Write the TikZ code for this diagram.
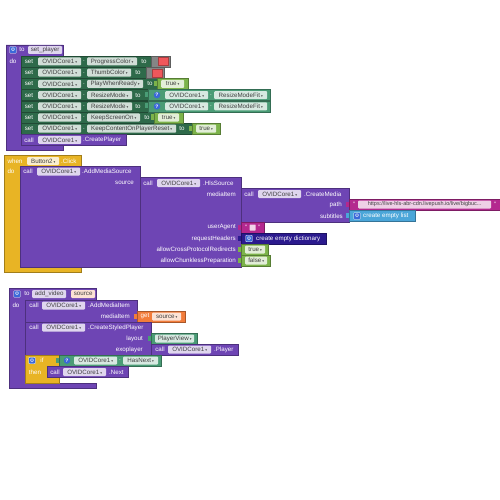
\documentclass[tikz,border=0pt]{standalone}
\usepackage{fontspec}
\setmainfont{Liberation Sans}
\newfontfamily\symfont{DejaVu Sans}

\definecolor{procpurple}{HTML}{6E45B4}
\definecolor{setgreen}{HTML}{2E6A4A}
\definecolor{compteal}{HTML}{4A9C76}
\definecolor{boolgreen}{HTML}{7CB34A}
\definecolor{evyellow}{HTML}{E8B425}
\definecolor{textmag}{HTML}{B4288F}
\definecolor{listblue}{HTML}{4BA6D9}
\definecolor{dictnavy}{HTML}{2B1A8E}
\definecolor{getorange}{HTML}{F27C3A}
\definecolor{colgray}{HTML}{858585}
\definecolor{colred}{HTML}{F0575B}
\definecolor{gearblue}{HTML}{3A68D8}

\tikzset{
    block/.style={
        draw=#1!70!black,
        fill=#1,
        line width=0.3pt,
    },
    lbl/.style={
        text=white,
        inner sep=0,
        font=\fontsize{6.2}{6.5}\selectfont,
    },
    fld/.style={
        fill=white!78!#1,
        text=black!75,
        rounded corners=1pt,
        inner sep=0,
        minimum height=8pt,
        anchor=west,
        font=\fontsize{6.2}{6.5}\selectfont,
    },
    gear/.style={
        draw=white,
        fill=gearblue,
        text=white,
        rounded corners=0.6pt,
        minimum size=6.5pt,
        inner sep=0,
        line width=0.4pt,
        font=\symfont\fontsize{5}{5}\selectfont,
    },
    qmark/.style={
        circle,
        fill=gearblue,
        text=white,
        minimum size=6.5pt,
        inner sep=0,
        font=\bfseries\fontsize{5}{5}\selectfont,
    },
    swatch/.style={
        fill=colred,
        draw=colred!70!black,
        line width=0.3pt,
        minimum width=10pt,
        minimum height=8pt,
        inner sep=0,
    },
}
\newcommand\dd{\,{\symfont\fontsize{3.5}{4}\selectfont ▾}}
\newcommand\fld[6]{\node[fld=#2, minimum width={((#4)-(#3))*1pt}] (#1) at ({#3},{#5}) {#6};}
\newcommand\tab[3]{\fill[#1] ({#2-3},{#3-3}) rectangle (#2,{#3+2});}

\begin{document}
\begin{tikzpicture}[x=1pt,y=-1pt]
    \useasboundingbox (0,0) rectangle (500,500);
    \fill[white] (0,0) rectangle (500,500);

    % set_player procedure
    \filldraw[block=procpurple] (6,45) -- (63,45) -- (63,56) -- (21,56) -- (21,145) -- (63,145) -- (63,150.5) -- (6,150.5) -- cycle;
    \node[gear] (gear1) at (13,50) {⚙};
    \node[lbl] (hdto1) at (22,50) {to};
    \fld{pname1}{procpurple}{28}{62}{50}{set\_player}
    \node[lbl] (do1) at (13,61.5) {do};

    % setter rows
    \foreach \prop/\pend/\tox/\gend [count=\n] in {
        ProgressColor/137/144/151,
        ThumbColor/131/138/146,
        PlayWhenReady/143/150/157,
        ResizeMode/132/138/148,
        ResizeMode/132/138/148,
        KeepScreenOn/140/147/154,
        KeepContentOnPlayerReset/176/182/192%
    } {
        \pgfmathsetmacro\c{61.5+11.2*(\n-1)}
        \filldraw[block=setgreen] (21,{\c-5.5}) rectangle (\gend,{\c+5.5});
        \node[lbl] (set\n) at (29,\c) {set};
        \fld{obj\n}{setgreen}{38}{81}{\c}{OVIDCore1\dd}
        \node[lbl] (dot\n) at (84,\c) {.};
        \fld{prop\n}{setgreen}{87}{\pend}{\c}{\prop\dd}
        \node[lbl] (to\n) at (\tox,\c) {to};
    }

    % colour values
    \filldraw[block=colgray] (151,56) rectangle (170,67);
    \node[swatch] (red1) at (163,61.5) {};
    \filldraw[block=colgray] (146,67.2) rectangle (164,78.2);
    \node[swatch] (red2) at (157,72.7) {};

    % true values
    \foreach \x/\y/\w [count=\n] in {157/83.9/31, 154/117.5/29, 192/128.7/28} {
        \tab{boolgreen}{\x}{\y}
        \filldraw[block=boolgreen] (\x,{\y-5.5}) rectangle ({\x+\w},{\y+5.5});
        \fld{tru\n}{boolgreen}{\x+4}{\x+\w-4}{\y}{true\dd}
    }

    % ResizeModeFit values
    \foreach \y [count=\n] in {95.1, 106.3} {
        \tab{compteal}{148}{\y}
        \filldraw[block=compteal] (148,{\y-5.5}) rectangle (270,{\y+5.5});
        \node[qmark] (q\n) at (157,\y) {?};
        \fld{fitobj\n}{compteal}{165}{208}{\y}{OVIDCore1\dd}
        \node[lbl] (fitdot\n) at (211,\y) {.};
        \fld{fit\n}{compteal}{214}{267}{\y}{ResizeModeFit\dd}
    }

    % call CreatePlayer
    \filldraw[block=procpurple] (21,134.4) rectangle (126,145.4);
    \node[lbl] (call1) at (29,139.9) {call};
    \fld{cpobj}{procpurple}{38}{81}{139.9}{OVIDCore1\dd}
    \node[lbl, anchor=west] (cp) at (83,139.9) {.CreatePlayer};

    % when Button2.Click
    \filldraw[block=evyellow] (4,155) -- (81,155) -- (81,166) -- (20,166) -- (20,267) -- (81,267) -- (81,272) -- (4,272) -- cycle;
    \node[lbl] (when) at (15,161) {when};
    \fld{btn}{evyellow}{27}{59}{161}{Button2\dd}
    \node[lbl, anchor=west] (click) at (61,161) {.Click};
    \node[lbl] (do2) at (11,171.5) {do};

    % AddMediaSource
    \filldraw[block=procpurple] (20,166) rectangle (140,267);
    \node[lbl] (call2) at (28,171.5) {call};
    \fld{amsobj}{procpurple}{37}{80}{171.5}{OVIDCore1\dd}
    \node[lbl, anchor=west] (ams) at (82,171.5) {.AddMediaSource};
    \node[lbl, anchor=east] (source) at (134,183) {source};

    % HlsSource
    \filldraw[block=procpurple] (140,177) rectangle (241,267);
    \node[lbl] (call3) at (148,183) {call};
    \fld{hlsobj}{procpurple}{157}{200}{183}{OVIDCore1\dd}
    \node[lbl, anchor=west] (hls) at (203,183) {.HlsSource};
    \foreach \t/\y [count=\n] in {
        mediaItem/194,
        userAgent/227.5,
        requestHeaders/238.5,
        allowCrossProtocolRedirects/249.5,
        allowChunklessPreparation/260.5%
    } {
        \node[lbl, anchor=east] (hlsin\n) at (236,\y) {\t};
    }

    % CreateMedia
    \filldraw[block=procpurple] (241,188) rectangle (349,222);
    \node[lbl] (call4) at (249,194) {call};
    \fld{cmobj}{procpurple}{258}{301}{194}{OVIDCore1\dd}
    \node[lbl, anchor=west] (cm) at (304,194) {.CreateMedia};
    \node[lbl, anchor=east] (path) at (342,204.5) {path};
    \node[lbl, anchor=east] (subs) at (343,216) {subtitles};

    % path text
    \tab{textmag}{349}{204.5}
    \filldraw[block=textmag] (349,199) rectangle (500,210);
    \node[lbl] (q1l) at (354,204) {"};
    \node[fld=textmag, minimum width=133pt, font=\fontsize{5.5}{6}\selectfont] (url) at (358,204.5) {https://live-hls-abr-cdn.livepush.io/live/bigbuc...};
    \node[lbl] (q1r) at (495,204) {"};

    % create empty list
    \tab{listblue}{349}{216}
    \filldraw[block=listblue] (349,210.5) rectangle (415,221.5);
    \node[gear] (gear2) at (357,216) {⚙};
    \node[lbl, anchor=west] (emptylist) at (363,216) {create empty list};

    % userAgent text
    \tab{textmag}{241}{227.5}
    \filldraw[block=textmag] (241,222) rectangle (264,233);
    \node[lbl] (q2l) at (246,227) {"};
    \node[fill=white!80!textmag, minimum size=6pt, inner sep=0, rounded corners=0.5pt] (ua) at (252.5,227.5) {};
    \node[lbl] (q2r) at (259,227) {"};

    % create empty dictionary
    \tab{dictnavy}{241}{238.5}
    \filldraw[block=dictnavy] (241,233) rectangle (326,244);
    \node[gear] (gear3) at (249,238.5) {⚙};
    \node[lbl, anchor=west] (emptydict) at (256,238.5) {create empty dictionary};

    % true / false
    \tab{boolgreen}{241}{249.5}
    \filldraw[block=boolgreen] (241,244) rectangle (268,255);
    \fld{tru4}{boolgreen}{245}{265}{249.5}{true\dd}
    \tab{boolgreen}{241}{260.5}
    \filldraw[block=boolgreen] (241,255) rectangle (270,266);
    \fld{fls}{boolgreen}{245}{267}{260.5}{false\dd}

    % add_video procedure
    \filldraw[block=procpurple] (9,288) -- (96,288) -- (96,300) -- (25,300) -- (25,383) -- (96,383) -- (96,388.5) -- (9,388.5) -- cycle;
    \node[gear] (gear4) at (17,294) {⚙};
    \node[lbl] (hdto2) at (27,294) {to};
    \fld{pname2}{procpurple}{32}{66}{294}{add\_video}
    \fld{param}{getorange}{71}{95}{294}{source}
    \node[lbl] (do3) at (16,305.5) {do};

    % AddMediaItem
    \filldraw[block=procpurple] (25,300) rectangle (137,322);
    \node[lbl] (call5) at (34,305.5) {call};
    \fld{amiobj}{procpurple}{42}{85}{305.5}{OVIDCore1\dd}
    \node[lbl, anchor=west] (ami) at (88,305.5) {.AddMediaItem};
    \node[lbl, anchor=east] (mitem) at (130,316.5) {mediaItem};
    \tab{getorange}{137}{316.5}
    \filldraw[block=getorange] (137,311) rectangle (185,322);
    \node[lbl] (get) at (145,316.5) {get};
    \fld{getsrc}{getorange}{152}{181}{316.5}{source\dd}

    % CreateStyledPlayer
    \filldraw[block=procpurple] (25,322) rectangle (151,355);
    \node[lbl] (call6) at (34,327.5) {call};
    \fld{cspobj}{procpurple}{42}{85}{327.5}{OVIDCore1\dd}
    \node[lbl, anchor=west] (csp) at (88,327.5) {.CreateStyledPlayer};
    \node[lbl, anchor=east] (layout) at (143,338.5) {layout};
    \node[lbl, anchor=east] (exo) at (143,349.5) {exoplayer};
    \tab{compteal}{151}{338.5}
    \filldraw[block=compteal] (151,333) rectangle (197,344);
    \fld{pview}{compteal}{155}{194}{338.5}{PlayerView\dd}
    \filldraw[block=procpurple] (151,344) rectangle (238,355);
    \node[lbl] (call7) at (160,349.5) {call};
    \fld{plobj}{procpurple}{168}{211}{349.5}{OVIDCore1\dd}
    \node[lbl, anchor=west] (player) at (214,349.5) {.Player};

    % if HasNext then Next
    \filldraw[block=evyellow] (25,355) -- (59,355) -- (59,366.5) -- (47,366.5) -- (47,377.5) -- (59,377.5) -- (59,383) -- (25,383) -- cycle;
    \node[gear] (gear5) at (32,360.5) {⚙};
    \node[lbl] (if) at (42,360.5) {if};
    \node[lbl] (then) at (35,372) {then};
    \tab{compteal}{59}{360.5}
    \filldraw[block=compteal] (59,355) rectangle (161,366);
    \node[qmark] (q3) at (67,360.5) {?};
    \fld{hnobj}{compteal}{74}{117}{360.5}{OVIDCore1\dd}
    \node[lbl] (hndot) at (120,360.5) {.};
    \fld{hn}{compteal}{123}{158}{360.5}{HasNext\dd}
    \filldraw[block=procpurple] (47,366.5) rectangle (128,377.5);
    \node[lbl] (call8) at (55,372) {call};
    \fld{nxobj}{procpurple}{63}{106}{372}{OVIDCore1\dd}
    \node[lbl, anchor=west] (next) at (109,372) {.Next};

\end{tikzpicture}
\end{document}
